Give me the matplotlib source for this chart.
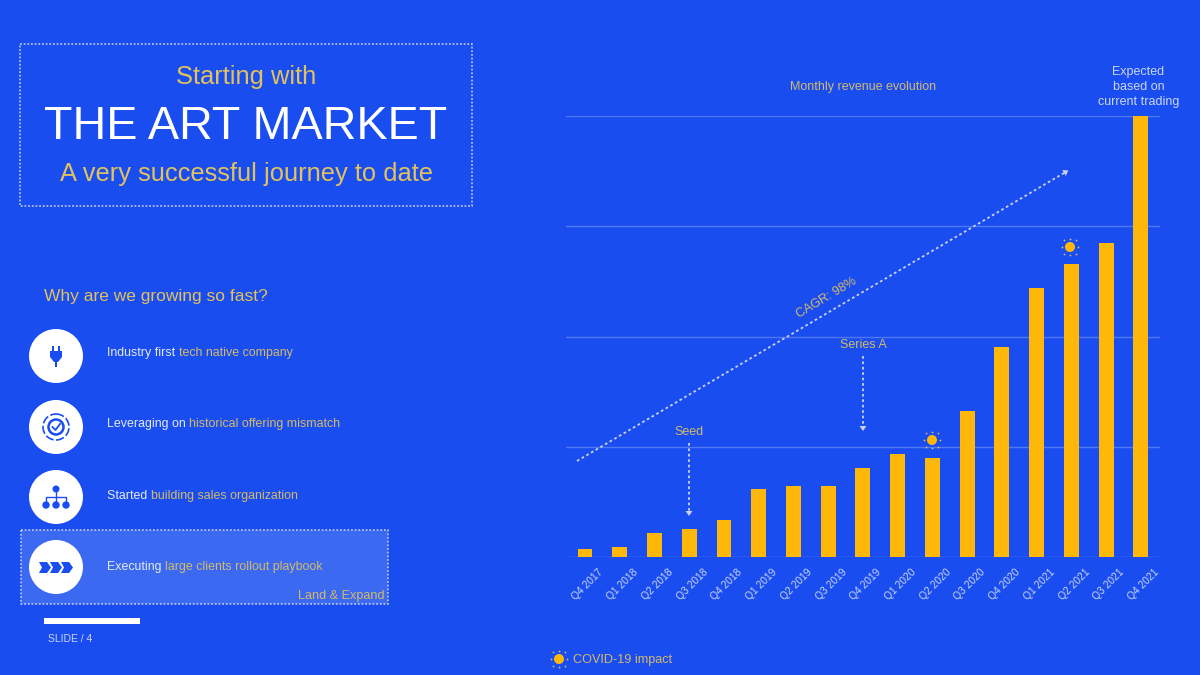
import matplotlib
matplotlib.use('Agg')
import matplotlib.pyplot as plt
from matplotlib.patches import Circle, Polygon, Rectangle
from matplotlib.transforms import ScaledTranslation

plt.rcParams['font.family'] = ['Liberation Sans', 'DejaVu Sans']

BG = '#1A4DF0'
GOLD = '#E2C25C'
TAN = '#D3BA6A'
BAR = '#FFB80A'
PALE = '#C9D6F8'
DOTS = '#C8D2F0'

quarters = ['Q4 2017', 'Q1 2018', 'Q2 2018', 'Q3 2018', 'Q4 2018', 'Q1 2019',
            'Q2 2019', 'Q3 2019', 'Q4 2019', 'Q1 2020', 'Q2 2020', 'Q3 2020',
            'Q4 2020', 'Q1 2021', 'Q2 2021', 'Q3 2021', 'Q4 2021']
# revenue, top gridline = 100
revenue = [1.8, 2.3, 5.4, 6.3, 8.4, 15.4, 16.1, 16.1, 20.2, 23.4, 22.4, 33.1,
           47.6, 61.0, 66.4, 71.2, 100.0]
grid_levels = [0, 25, 50, 75, 100]

points_white = ['Industry first ', 'Leveraging on ', 'Started ', 'Executing ']
points_gold = ['tech native company', 'historical offering mismatch',
               'building sales organization', 'large clients rollout playbook']

fig = plt.figure(figsize=(12, 6.75), dpi=100, facecolor=BG)

# chart
ax = fig.add_axes([566 / 1200, 118 / 675, 594 / 1200, 441 / 675], zorder=1)
ax.set_facecolor('none')
ax.bar(range(len(quarters)), revenue, width=0.43, color=BAR, zorder=3)
ax.set_xlim(-0.547, 16.55)
ax.set_ylim(0, 100)
ax.set_yticks(grid_levels)
ax.set_yticklabels([])
ax.yaxis.grid(True, color='#4F78F3', lw=1)
ax.set_axisbelow(True)
ax.set_xticks(range(len(quarters)))
ax.set_xticklabels(quarters, rotation=45, ha='right', rotation_mode='anchor',
                   fontsize=7.4, color=PALE)
ax.tick_params(length=0, pad=7)
shift = ScaledTranslation(9.5 / 72, 0, fig.dpi_scale_trans)
for lab in ax.get_xticklabels():
    lab.set_transform(lab.get_transform() + shift)
for s in ax.spines.values():
    s.set_visible(False)

# everything else sits on a pixel overlay
ov = fig.add_axes([0, 0, 1, 1], zorder=2)
ov.set_xlim(0, 1200)
ov.set_ylim(675, 0)
ov.axis('off')
ov.patch.set_visible(False)


def dotted_box(x0, y0, x1, y1, fill='none'):
    ov.add_patch(Rectangle((x0, y0), x1 - x0, y1 - y0, facecolor=fill, edgecolor=DOTS,
                           lw=1.1, ls=(0, (1.2, 1.2))))


def dotted_arrow(x0, y0, x1, y1, size=5):
    ov.plot([x0, x1], [y0, y1], color=DOTS, lw=1.3, ls=(0, (1.5, 1.5)))
    dx, dy = x1 - x0, y1 - y0
    n = (dx ** 2 + dy ** 2) ** 0.5
    dx, dy = dx / n, dy / n
    ov.add_patch(Polygon([(x1 + dx * size, y1 + dy * size),
                          (x1 - dy * size * 0.7, y1 + dx * size * 0.7),
                          (x1 + dy * size * 0.7, y1 - dx * size * 0.7)],
                         color=DOTS, lw=0))


def sun(x, y):
    ov.add_patch(Circle((x, y), 5, color=BAR, lw=0))
    for dx, dy in [(-6, -7), (0, -8), (6, -7), (8, 0), (6, 7), (0, 8), (-6, 7), (-8, 0)]:
        ov.plot([x + dx], [y + dy], 'o', ms=1.3, color=TAN, mew=0)


# header
dotted_box(20, 44, 472, 206)
ov.text(246, 77, 'Starting with', color=GOLD, fontsize=18.4, ha='center', va='center')
ov.text(246, 127, 'THE ART MARKET', color='white', fontsize=33.7, ha='center', va='center')
ov.text(246, 174, 'A very successful journey to date', color=GOLD, fontsize=18.4,
        ha='center', va='center')
ov.text(44, 296, 'Why are we growing so fast?', color=GOLD, fontsize=12.5, va='center')

# highlighted row goes under the circles
dotted_box(21, 530, 388, 604, fill='#3B69F2')
ov.text(384, 596, 'Land & Expand', color=TAN, fontsize=9.1, ha='right', va='center')

row_y = [356, 427, 497, 567]
text_y = [353, 424, 496, 567]
fig.canvas.draw()
rend = fig.canvas.get_renderer()
for i in range(4):
    ov.add_patch(Circle((56, row_y[i]), 27, color='white', lw=0))
    t = ov.text(107, text_y[i], points_white[i], color='#E4EAFB', fontsize=8.9, va='center')
    w = t.get_window_extent(rend).width
    ov.text(107 + w, text_y[i], points_gold[i], color=TAN, fontsize=8.9, va='center')

# plug icon
ov.add_patch(Polygon([(50, 351), (62, 351), (62, 357), (58, 362), (54, 362), (50, 357)], color=BG, lw=0))
ov.add_patch(Rectangle((52, 346), 2, 5, color=BG, lw=0))
ov.add_patch(Rectangle((58, 346), 2, 5, color=BG, lw=0))
ov.add_patch(Rectangle((55, 362), 2, 5, color=BG, lw=0))

# target icon
ov.add_patch(Circle((56, 427), 13, fill=False, ec=BG, lw=1.2, ls=(0, (5, 1.5))))
ov.add_patch(Circle((56, 427), 7.5, fill=False, ec=BG, lw=1.8))
ov.plot([52.5, 55.5, 60], [427, 430, 424], color=BG, lw=1.3)

# org chart icon
ov.add_patch(Circle((56, 489), 3.5, color=BG, lw=0))
ov.plot([56, 56], [489, 504], color=BG, lw=1)
ov.plot([46, 46, 66, 66], [504, 497, 497, 504], color=BG, lw=1)
for cx in [46, 56, 66]:
    ov.add_patch(Circle((cx, 505), 3.7, color=BG, lw=0))

# chevrons icon
for x0 in [39, 50, 61]:
    ov.add_patch(Polygon([(x0, 562), (x0 + 8, 562), (x0 + 12, 567.5), (x0 + 8, 573),
                          (x0, 573), (x0 + 3, 567.5)], color=BG, lw=0))

# footer
ov.add_patch(Rectangle((44, 618), 96, 6, color='white', lw=0))
ov.text(48, 639, 'SLIDE / 4', color=PALE, fontsize=7.5, va='center')

# chart annotations
ov.text(863, 87, 'Monthly revenue evolution', color=TAN, fontsize=9, ha='center', va='center')
ov.text(1138.5, 87, 'Expected\nbased on\ncurrent trading', color=PALE, fontsize=9, ha='center',
        va='center', linespacing=1.28)
dotted_arrow(577, 461, 1064, 173)
ov.text(827, 298, 'CAGR: 98%', color=TAN, fontsize=9, ha='center', va='center', rotation=31)
ov.text(689, 432, 'Seed', color=TAN, fontsize=9, ha='center', va='center')
dotted_arrow(689, 443, 689, 511)
ov.text(863, 345, 'Series A', color=TAN, fontsize=9, ha='center', va='center')
dotted_arrow(863, 356, 863, 426)
sun(932, 440)
sun(1070, 247)
sun(559, 659)
ov.text(573, 660, 'COVID-19 impact', color=TAN, fontsize=9.1, va='center')

fig.savefig('out.png', dpi=100, facecolor=BG)
